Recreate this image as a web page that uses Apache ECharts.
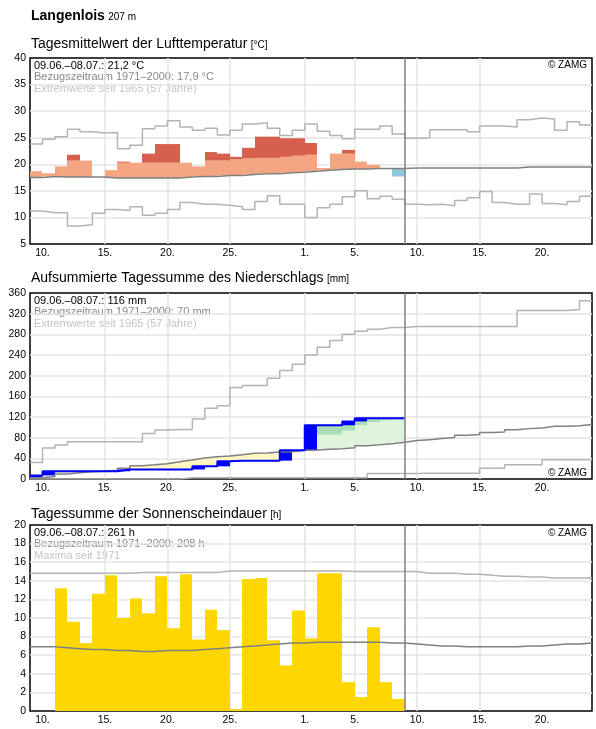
<!DOCTYPE html>
<html>
<head>
<meta charset="utf-8">
<script src="https://cdn.jsdelivr.net/npm/echarts@6.0.0/dist/echarts.min.js"></script>
<style>
  html, body { margin: 0; padding: 0; background: #fff; }
  #chart { width: 596px; height: 729px; }
</style>
</head>
<body>
<div id="chart"></div>
<script>
// day index 0 = 09.06., axis runs over 45 days, data up to index 29 (08.07.)
const startDate = new Date(2021, 5, 9);
const labelDays = [1, 6, 11, 16, 22, 26, 31, 36, 41];
const dataEnd = 30;

// Tagesmittel Lufttemperatur [°C]
const tempActual = [18.7, 18.3, 19.6, 21.8, 20.7, 17.6, 18.9, 20.5, 20.3, 22.0,
  23.8, 23.8, 20.3, 19.6, 22.3, 22.0, 21.4, 23.1, 25.2, 25.2,
  24.9, 24.9, 24.0, 19.3, 22.0, 22.7, 20.5, 19.9, 19.2, 17.7];
const tempHigh = [20.7, 20.7, 20.7, 20.7, 20.7, 20.5, 20.5, 20.3, 20.3, 20.3,
  20.3, 20.3, 20.3, 20.5, 20.7, 20.7, 20.9, 21.1, 21.2, 21.2,
  21.4, 21.6, 21.8, 21.9, 22.0, 22.0, 22.0, 22.0, 22.0, 22.0];
const tempNormal = [17.5, 17.7, 17.6, 17.6, 17.6, 17.6, 17.4, 17.4, 17.4, 17.4,
  17.4, 17.4, 17.6, 17.7, 17.7, 17.9, 17.9, 18.1, 18.2, 18.2,
  18.4, 18.5, 18.7, 18.9, 19.0, 19.1, 19.1, 19.2, 19.2, 19.2,
  19.3, 19.3, 19.3, 19.3, 19.3, 19.3, 19.3, 19.3, 19.3, 19.5,
  19.5, 19.5, 19.5, 19.5, 19.5];
const tempMax = [23.8, 24.7, 25.2, 26.6, 26.1, 25.9, 26.0, 22.9, 23.6, 26.7,
  27.2, 28.2, 27.0, 26.4, 26.8, 25.5, 26.4, 27.6, 27.8, 26.8,
  25.4, 26.4, 27.6, 26.2, 25.4, 24.8, 26.6, 26.6, 27.2, 25.7,
  24.9, 25.0, 26.5, 26.5, 26.5, 26.1, 27.2, 27.2, 27.0, 28.4,
  28.7, 28.5, 26.4, 28.0, 27.4];
const tempMin = [11.2, 10.9, 10.9, 8.4, 8.6, 10.8, 11.5, 11.3, 12.0, 10.4,
  10.8, 11.5, 12.8, 12.5, 12.5, 12.3, 12.0, 11.5, 13.0, 14.1,
  12.5, 12.5, 10.0, 11.8, 12.5, 13.9, 15.0, 13.5, 14.0, 13.4,
  12.5, 12.4, 12.5, 12.2, 13.2, 13.7, 14.9, 12.8, 12.5, 12.5,
  14.4, 12.6, 12.4, 13.0, 14.0];

// aufsummierter Niederschlag [mm]
const precipActual = [7, 15, 15, 15, 15, 15, 15, 18.5, 18.5, 18.5,
  18.5, 18.5, 18.5, 24.5, 24.5, 34.5, 35.5, 35.5, 35.5, 35.5,
  55.5, 55.5, 104, 104, 104, 111.5, 117.5, 117.5, 117.5, 117.5];
const precipHigh = [20, 22, 24, 25, 27, 28, 30, 33, 36, 38,
  40, 42, 45, 48, 50, 52, 55, 58, 60, 63,
  66, 70, 78, 85.8, 85.8, 93.5, 104, 110.3, 113.6, 114.9];
const precipNormal = [2.5, 5, 9.7, 12.3, 14, 15, 16.8, 21, 25.8, 27.7,
  29.7, 33.5, 36.8, 40.6, 43.2, 44.5, 47.1, 49.7, 50.3, 52.2,
  52.9, 55.5, 56.1, 57.4, 58.7, 60.6, 64.5, 66.4, 68.4, 71,
  74.3, 76.2, 78.2, 80.1, 84.6, 85.9, 89.8, 91, 95.5, 97.5,
  98.8, 102, 102, 103.3, 105.3];
const precipMax = [31.7, 60, 66, 72, 72, 72, 72, 72, 72, 88,
  95, 96, 96, 116, 137, 142, 177, 181, 181, 195,
  210, 222, 240, 255, 268, 280, 286, 290, 293, 293,
  295, 295, 295, 295, 295, 295, 295, 295, 295, 326,
  326, 326, 326, 328, 345];
const precipMin = [0, 0, 0, 0, 0, 0, 0, 0, 0, 0,
  0, 0, 2.6, 2.6, 2.6, 2.6, 2.6, 2.6, 2.6, 2.6,
  2.6, 2.6, 2.6, 2.6, 2.6, 2.6, 2.6, 10.5, 10.5, 10.5,
  10.5, 11, 11, 11, 11, 11, 21, 21, 27.5, 27.5,
  27.5, 37.5, 37.5, 37.5, 37.5];

// Sonnenscheindauer [h]
const sunActual = [0, 0, 13.2, 9.6, 7.3, 12.6, 14.6, 10.0, 12.1, 10.5,
  14.5, 8.9, 14.7, 7.7, 10.9, 8.7, 0.2, 14.2, 14.3, 7.6,
  4.9, 10.8, 7.8, 14.8, 14.8, 3.1, 1.5, 9.0, 3.1, 1.3];
const sunNormal = [6.9, 6.9, 6.8, 6.7, 6.6, 6.6, 6.5, 6.5, 6.4, 6.4,
  6.5, 6.5, 6.5, 6.6, 6.7, 6.8, 6.9, 7.0, 7.1, 7.2,
  7.3, 7.3, 7.4, 7.4, 7.4, 7.4, 7.4, 7.4, 7.3, 7.3,
  7.2, 7.1, 7.0, 7.0, 6.9, 6.9, 6.9, 6.9, 6.9, 7.0,
  7.0, 7.1, 7.2, 7.2, 7.3];
const sunMax = [14.8, 14.8, 14.8, 14.8, 14.8, 14.8, 14.8, 14.8, 14.9, 14.9,
  14.9, 14.9, 14.9, 14.9, 14.9, 15.05, 15.05, 15.05, 15.05, 15.05,
  15.05, 15.05, 15.05, 15.05, 15.05, 15.0, 15.0, 15.0, 15.0, 15.0,
  15.0, 14.8, 14.8, 14.8, 14.7, 14.7, 14.6, 14.5, 14.5, 14.4,
  14.4, 14.3, 14.3, 14.3, 14.3];

const FONT = '"Liberation Sans", Arial, sans-serif';
const GRID = '#e5e5e5';
const NORMAL = '#808080';
const EXTREME = '#b4b4b4';

const panels = [
  { top: 58, min: 5, max: 40, interval: 5 },
  { top: 293, min: 0, max: 360, interval: 40 },
  { top: 525, min: 0, max: 20, interval: 2 }
];

function dayLabel(v) {
  const d = new Date(startDate);
  d.setDate(d.getDate() + v);
  return d.getDate() + '.';
}

// step lines: each value holds for one whole day
function stepPoints(values) {
  const pts = values.map((v, i) => [i, v]);
  pts.push([values.length, values[values.length - 1]]);
  return pts;
}

function makeRect(api, t, lo, hi, color) {
  const p0 = api.coord([t, hi]);
  const p1 = api.coord([t + 1, lo]);
  const x0 = Math.round(p0[0]), x1 = Math.round(p1[0]);
  return { type: 'rect', shape: { x: x0, y: p0[1], width: x1 - x0, height: p1[1] - p0[1] }, style: { fill: color } };
}

function tempRender(params, api) {
  const t = api.value(0), normal = api.value(1), actual = api.value(2), high = api.value(3);
  const children = [];
  if (actual >= normal) {
    children.push(makeRect(api, t, normal, Math.min(actual, high), '#f4a582'));
    if (actual > high) children.push(makeRect(api, t, high, actual, '#d6604d'));
  } else {
    children.push(makeRect(api, t, actual, normal, '#92c5de'));
  }
  return { type: 'group', children };
}

function precipRender(params, api) {
  const t = api.value(0), normal = api.value(1), actual = api.value(2), high = api.value(3), prev = api.value(4);
  const children = [];
  if (actual < normal) {
    children.push(makeRect(api, t, actual, normal, '#fff6c2'));
  } else {
    children.push(makeRect(api, t, normal, Math.min(actual, high), '#e0f3db'));
    if (actual > high) children.push(makeRect(api, t, high, actual, '#a8ddb5'));
  }
  if (actual > prev) children.push(makeRect(api, t, prev, actual, '#0000ff'));
  return { type: 'group', children };
}

function sunRender(params, api) {
  const t = api.value(0), v = api.value(1);
  return makeRect(api, t, 0, v, '#ffd700');
}

function stepLine(idx, values, color, width, z) {
  return {
    type: 'line', xAxisIndex: idx, yAxisIndex: idx, data: stepPoints(values),
    step: 'end', showSymbol: false, silent: true, z: z || 3,
    lineStyle: { color: color, width: width || 1.5 }
  };
}

const nowLine = {
  silent: true, symbol: 'none', label: { show: false },
  lineStyle: { color: NORMAL, width: 1.5, type: 'solid' },
  data: [{ xAxis: dataEnd }]
};

const series = [
  { type: 'custom', xAxisIndex: 0, yAxisIndex: 0, z: 1, renderItem: tempRender, encode: { x: 0, y: 1 },
    data: tempActual.map((a, i) => [i, tempNormal[i], a, tempHigh[i]]) },
  stepLine(0, tempMax, EXTREME),
  stepLine(0, tempMin, EXTREME),
  Object.assign(stepLine(0, tempNormal, NORMAL), { markLine: nowLine }),

  { type: 'custom', xAxisIndex: 1, yAxisIndex: 1, z: 1, renderItem: precipRender, encode: { x: 0, y: 1 },
    data: precipActual.map((a, i) => [i, precipNormal[i], a, precipHigh[i], i > 0 ? precipActual[i - 1] : 0]) },
  stepLine(1, precipMax, EXTREME),
  stepLine(1, precipMin, EXTREME),
  Object.assign(stepLine(1, precipNormal, NORMAL), { markLine: nowLine }),
  stepLine(1, precipActual, '#0000ff', 2, 4),

  { type: 'custom', xAxisIndex: 2, yAxisIndex: 2, z: 1, renderItem: sunRender, encode: { x: 0, y: 1 },
    data: sunActual.map((v, i) => [i, v]) },
  stepLine(2, sunMax, EXTREME),
  Object.assign(stepLine(2, sunNormal, NORMAL), { markLine: nowLine })
];

function titleText(top, main, unit) {
  return {
    type: 'text', left: 31, top: top,
    style: {
      text: '{a|' + main + '} {b|' + unit + '}',
      rich: {
        a: { fontSize: 14, fontFamily: FONT, fill: '#000', verticalAlign: 'bottom' },
        b: { fontSize: 10, fontFamily: FONT, fill: '#000', verticalAlign: 'bottom', padding: [0, 0, 1, 0] }
      }
    }
  };
}

function infoLines(top, lines) {
  const colors = ['#000', '#888', '#c4c4c4'];
  return lines.map((txt, i) => ({
    type: 'text', left: 34, top: top + 2 + i * 11.8,
    style: { text: txt, font: '11px ' + FONT, fill: colors[i] }
  }));
}

function zamg(top) {
  return { type: 'text', right: 9, top: top, style: { text: '© ZAMG', font: '10px ' + FONT, fill: '#000' } };
}

const graphic = [
  { type: 'text', left: 31, top: 9, style: {
      text: '{a|Langenlois} {b|207 m}',
      rich: {
        a: { fontSize: 14, fontWeight: 'bold', fontFamily: FONT, fill: '#000', verticalAlign: 'bottom' },
        b: { fontSize: 10, fontFamily: FONT, fill: '#000', verticalAlign: 'bottom', padding: [0, 0, 1, 0] }
      } } },
  titleText(37.5, 'Tagesmittelwert der Lufttemperatur', '[°C]'),
  titleText(271, 'Aufsummierte Tagessumme des Niederschlags', '[mm]'),
  titleText(507, 'Tagessumme der Sonnenscheindauer', '[h]'),
  ...infoLines(58, ['09.06.–08.07.: 21,2 °C', 'Bezugszeitraum 1971–2000: 17,9 °C', 'Extremwerte seit 1965 (57 Jahre)']),
  ...infoLines(293, ['09.06.–08.07.: 116 mm', 'Bezugszeitraum 1971–2000: 70 mm', 'Extremwerte seit 1965 (57 Jahre)']),
  ...infoLines(525, ['09.06.–08.07.: 261 h', 'Bezugszeitraum 1971–2000: 208 h', 'Maxima seit 1971']),
  zamg(60), zamg(468), zamg(528)
];

const option = {
  animation: false,
  backgroundColor: '#fff',
  textStyle: { fontFamily: FONT },
  grid: panels.map(p => ({
    left: 30, right: 4, top: p.top, height: 186,
    show: true, borderColor: '#000', borderWidth: 1.5, backgroundColor: 'transparent'
  })),
  xAxis: panels.map((p, i) => ({
    gridIndex: i, type: 'value', min: 0, max: 45,
    axisLine: { show: false },
    axisTick: { show: false, customValues: labelDays },
    axisLabel: { customValues: labelDays, formatter: dayLabel, color: '#000', fontSize: 10.5, fontFamily: FONT, margin: 4 },
    splitLine: { show: true, showMinLine: false, showMaxLine: false, lineStyle: { color: GRID, width: 1.5 } }
  })),
  yAxis: panels.map((p, i) => ({
    gridIndex: i, type: 'value', min: p.min, max: p.max, interval: p.interval,
    axisLine: { show: false },
    axisTick: { show: false },
    axisLabel: { color: '#000', fontSize: 10.5, fontFamily: FONT, margin: 4 },
    splitLine: { show: true, showMinLine: false, showMaxLine: false, lineStyle: { color: GRID, width: 1.5 } }
  })),
  series: series,
  graphic: graphic
};

const chart = echarts.init(document.getElementById('chart'));
chart.setOption(option);
</script>
</body>
</html>
